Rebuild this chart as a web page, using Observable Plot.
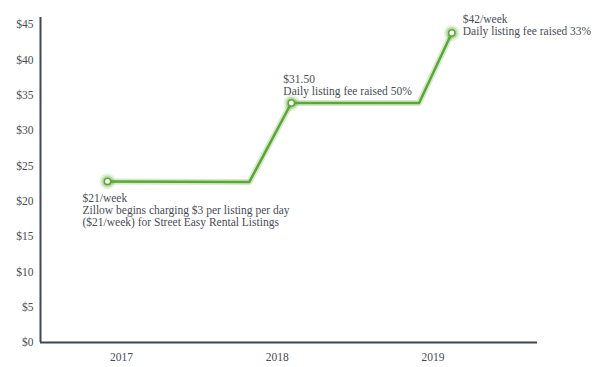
<!DOCTYPE html>
<html><head><meta charset="utf-8">
<script src="https://cdn.jsdelivr.net/npm/d3@7"></script>
<script src="https://cdn.jsdelivr.net/npm/@observablehq/plot@0.6"></script>
<style>
body{margin:0;background:#fff;}
svg{font-family:"Liberation Serif",serif;}
</style></head><body><div id="chart"></div>
<script>
const years = [2016.91, 2017.82, 2018.09, 2018.91, 2019.12];
const prices = [22.8, 22.7, 33.9, 33.9, 43.8];
const tickYears = [2017, 2018, 2019];
const priceTicks = [0,5,10,15,20,25,30,35,40,45];
const notes = [
  {year: 2016.91, price: 22.8, text: "$21/week\nZillow begins charging $3 per listing per day\n($21/week) for Street Easy Rental Listings"},
  {year: 2018.09, price: 33.9, text: "$31.50\nDaily listing fee raised 50%"},
  {year: 2019.12, price: 43.8, text: "$42/week\nDaily listing fee raised 33%"}
];
const series = years.map((y,i)=>({year:y, price:prices[i]}));
const pts = [series[0], series[2], series[4]];
const green = "#5aa832";
const textColor = "#474c55";
const axisColor = "#3f4856";

const plot = Plot.plot({
  width: 600, height: 367,
  marginLeft: 40, marginRight: 63, marginTop: 17, marginBottom: 25,
  style: {fontFamily: "Liberation Serif, serif", fontSize: "11px", color: textColor, background: "#fff"},
  x: {domain: [2016.48, 2019.67], ticks: tickYears, tickFormat: d => String(d), tickSize: 0, label: null},
  y: {domain: [0, 46], ticks: priceTicks, tickFormat: d => "$" + d, tickSize: 0, label: null},
  marks: [
    Plot.axisX({ticks: tickYears, tickFormat: d => String(d), tickSize: 0, tickPadding: 10, fontSize: 11.5, fill: textColor, label: null}),
    Plot.axisY({ticks: priceTicks, tickFormat: d => "$" + d, tickSize: 0, tickPadding: 7, fontSize: 11.5, fill: textColor, label: null}),
    Plot.ruleX([2016.48], {y1: 0, y2: 46, stroke: axisColor, strokeWidth: 2}),
    Plot.ruleY([0], {x1: 2016.48, x2: 2019.67, stroke: axisColor, strokeWidth: 2}),
    Plot.line(series, {x: "year", y: "price", stroke: green, strokeOpacity: 0.25, strokeWidth: 6}),
    Plot.line(series, {x: "year", y: "price", stroke: green, strokeWidth: 2.5}),
    Plot.dot(pts, {x: "year", y: "price", r: 8, fill: green, fillOpacity: 0.15, stroke: null}),
    Plot.dot(pts, {x: "year", y: "price", r: 6, fill: green, fillOpacity: 0.3, stroke: null}),
    Plot.dot(pts, {x: "year", y: "price", r: 3.2, fill: "#fff", stroke: green, strokeWidth: 1.5}),
    Plot.text([notes[0]], {x: "year", y: "price", text: "text", textAnchor: "start", lineAnchor: "top", dx: -25, dy: 12, fontSize: 11.5, lineHeight: 1.05, fill: textColor}),
    Plot.text([notes[1]], {x: "year", y: "price", text: "text", textAnchor: "start", lineAnchor: "bottom", dx: -8, dy: -8, fontSize: 11.5, lineHeight: 1.05, fill: textColor}),
    Plot.text([notes[2]], {x: "year", y: "price", text: "text", textAnchor: "start", lineAnchor: "middle", dx: 11, dy: -8, fontSize: 11.5, lineHeight: 1.05, fill: textColor})
  ]
});
document.getElementById("chart").appendChild(plot);
</script></body></html>
